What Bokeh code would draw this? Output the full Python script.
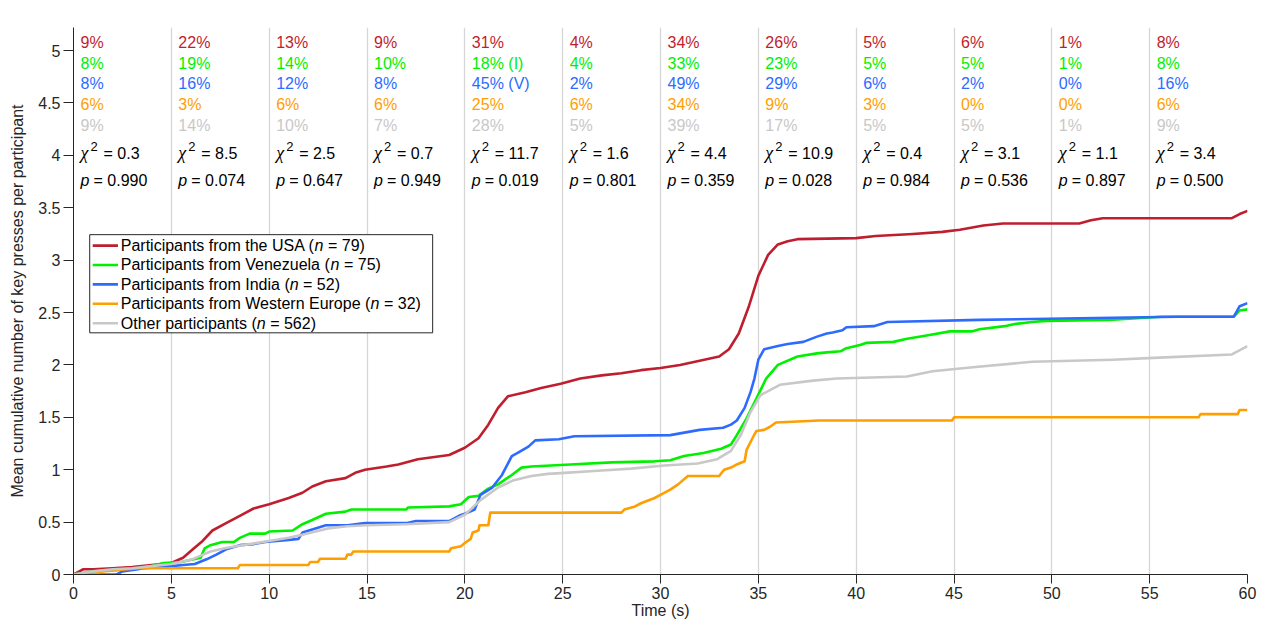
from bokeh.plotting import figure
from bokeh.models import Range1d, FixedTicker, CustomJSTickFormatter, Label
from bokeh.core.properties import value
from bokeh.embed import file_html
from bokeh.resources import INLINE

# ---------------- data ----------------
t_usa = [0, 0.3, 0.5, 1, 2, 3, 4, 5, 5.6, 6.1, 6.6, 7.1, 7.8, 8.5, 9.2, 10, 11, 11.7, 12.2, 12.9,
         13.9, 14.4, 14.9, 16, 16.6, 17.6, 19.2, 20, 20.7, 21.2, 21.7, 22.2, 23.1, 23.9, 24.9,
         25.9, 27, 28, 29, 30, 31, 32, 33, 33.5, 34, 34.5, 35, 35.5, 36, 36.5, 37, 40, 41, 42.9,
         44.4, 45.3, 46.5, 47.5, 51.4, 52, 52.6, 59.2, 59.6, 60]
v_usa = [0, 0.03, 0.05, 0.05, 0.06, 0.07, 0.09, 0.11, 0.16, 0.24, 0.32, 0.42, 0.49, 0.56, 0.63, 0.67,
         0.73, 0.78, 0.84, 0.89, 0.92, 0.97, 1.0, 1.03, 1.05, 1.10, 1.14, 1.21, 1.30, 1.43, 1.59,
         1.70, 1.74, 1.78, 1.82, 1.87, 1.9, 1.92, 1.95, 1.97, 2.0, 2.04, 2.08, 2.15, 2.3, 2.55, 2.85,
         3.05, 3.15, 3.18, 3.2, 3.21, 3.23, 3.25, 3.27, 3.29, 3.33, 3.35, 3.35, 3.38, 3.40, 3.40,
         3.44, 3.47]

t_ven = [0, 1, 2, 3, 4, 4.6, 5.5, 6.5, 6.7, 7.0, 7.6, 8.2, 8.5, 9.0, 9.8, 10, 11.2, 11.7, 12.2, 12.9,
         13.9, 14.2, 17.0, 17.1, 19.2, 19.8, 20.2, 20.7, 21.2, 21.7, 22.4, 22.9, 23.4, 25.4, 27.5,
         29.7, 30.5, 31.2, 32.2, 33.1, 33.6, 33.9, 34.4, 34.9, 35.4, 36, 37, 38, 38.5, 39.2, 39.5,
         40.2, 40.5, 41.9, 42.6, 43.6, 44.8, 45.9, 46.3, 47.6, 48.1, 49.0, 49.7, 52.9, 55.6, 59.3,
         59.6, 60]
v_ven = [0, 0.03, 0.04, 0.05, 0.08, 0.11, 0.12, 0.16, 0.25, 0.28, 0.31, 0.31, 0.35, 0.39, 0.39, 0.41,
         0.42, 0.48, 0.52, 0.58, 0.60, 0.62, 0.62, 0.64, 0.65, 0.67, 0.74, 0.75, 0.82, 0.86, 0.95,
         1.02, 1.03, 1.05, 1.07, 1.08, 1.09, 1.13, 1.16, 1.20, 1.24, 1.33, 1.49, 1.68, 1.87, 2.0,
         2.08, 2.11, 2.12, 2.13, 2.16, 2.19, 2.21, 2.22, 2.25, 2.28, 2.32, 2.32, 2.34, 2.37, 2.39,
         2.41, 2.42, 2.43, 2.46, 2.46, 2.52, 2.53]

t_ind = [0, 2.2, 2.5, 3.3, 3.6, 5, 5.6, 6.2, 6.8, 7.3, 7.8, 8.5, 9.2, 9.8, 11.0, 11.5, 11.7, 12.2,
         12.9, 14, 14.9, 17, 17.5, 19.2, 19.7, 20.0, 20.5, 20.8, 21.4, 21.9, 22.4, 22.7, 23.25, 23.6,
         24.8, 25.6, 30.5, 32.0, 33.2, 33.6, 33.9, 34.3, 34.6, 34.8, 35.0, 35.3, 36, 36.5, 37.3, 38,
         38.5, 38.8, 39.3, 39.5, 40.9, 41.6, 46.3, 56.4, 59.3, 59.6, 60]
v_ind = [0, 0, 0.03, 0.05, 0.06, 0.08, 0.09, 0.10, 0.145, 0.19, 0.24, 0.28, 0.29, 0.31, 0.33, 0.34,
         0.40, 0.43, 0.47, 0.47, 0.49, 0.49, 0.51, 0.51, 0.56, 0.58, 0.62, 0.76, 0.83, 0.95, 1.13,
         1.16, 1.22, 1.28, 1.29, 1.32, 1.33, 1.38, 1.40, 1.43, 1.47, 1.59, 1.74, 1.87, 2.05, 2.15,
         2.18, 2.2, 2.22, 2.27, 2.30, 2.31, 2.33, 2.36, 2.37, 2.41, 2.43, 2.46, 2.46, 2.56, 2.59]

t_we = [0, 1.0, 1.5, 3.3, 8.4, 8.5, 12.0, 12.1, 12.5, 12.6, 13.9, 14.0, 14.2, 14.3, 19.2, 19.3, 19.8,
        20.0, 20.3, 20.4, 20.7, 20.75, 21.2, 21.3, 28.0, 28.15, 28.7, 29.0, 29.7, 30.0, 30.5, 30.9,
        31.4, 33.0, 33.25, 33.6, 33.9, 34.3, 34.4, 34.7, 34.9, 35.3, 35.6, 35.9, 38.1, 44.9, 45.0,
        57.5, 57.6, 59.5, 59.6, 60]
v_we = [0, 0, 0.03, 0.06, 0.06, 0.09, 0.09, 0.12, 0.12, 0.15, 0.15, 0.19, 0.19, 0.22, 0.22, 0.25,
        0.27, 0.30, 0.34, 0.40, 0.42, 0.47, 0.47, 0.59, 0.59, 0.62, 0.65, 0.68, 0.73, 0.76, 0.81,
        0.86, 0.94, 0.94, 1.0, 1.02, 1.05, 1.08, 1.19, 1.30, 1.37, 1.38, 1.41, 1.45, 1.47, 1.47,
        1.50, 1.50, 1.53, 1.53, 1.57, 1.57]

t_oth = [0, 1, 2, 3, 4, 5, 6, 6.5, 7, 7.5, 8, 9, 10, 11, 11.7, 13, 14, 15, 17, 19.2, 20.0, 20.8, 21.7,
         22.5, 23.4, 24.25, 25.1, 26.8, 28.5, 30.2, 31.9, 32.9, 33.6, 34.1, 34.6, 35.1, 36.1, 37.8,
         39, 42.6, 43.9, 46.1, 49.0, 53.1, 55.5, 59.2, 60]
v_oth = [0, 0.03, 0.05, 0.06, 0.08, 0.10, 0.14, 0.18, 0.22, 0.24, 0.26, 0.29, 0.32, 0.35, 0.38, 0.44,
         0.46, 0.47, 0.48, 0.50, 0.57, 0.71, 0.83, 0.90, 0.94, 0.96, 0.97, 0.99, 1.01, 1.04, 1.06,
         1.10, 1.18, 1.33, 1.55, 1.71, 1.81, 1.85, 1.87, 1.89, 1.94, 1.98, 2.03, 2.05, 2.07, 2.10,
         2.18]

group_names = ["Participants from the USA", "Participants from Venezuela", "Participants from India",
               "Participants from Western Europe", "Other participants"]
group_n = [79, 75, 52, 32, 562]

pct_usa = ["9%", "22%", "13%", "9%", "31%", "4%", "34%", "26%", "5%", "6%", "1%", "8%"]
pct_ven = ["8%", "19%", "14%", "10%", "18% (I)", "4%", "33%", "23%", "5%", "5%", "1%", "8%"]
pct_ind = ["8%", "16%", "12%", "8%", "45% (V)", "2%", "49%", "29%", "6%", "2%", "0%", "16%"]
pct_we = ["6%", "3%", "6%", "6%", "25%", "6%", "34%", "9%", "3%", "0%", "0%", "6%"]
pct_oth = ["9%", "14%", "10%", "7%", "28%", "5%", "39%", "17%", "5%", "5%", "1%", "9%"]
chi2 = ["0.3", "8.5", "2.5", "0.7", "11.7", "1.6", "4.4", "10.9", "0.4", "3.1", "1.1", "3.4"]
pval = ["0.990", "0.074", "0.647", "0.949", "0.019", "0.801", "0.359", "0.028", "0.984", "0.536",
        "0.897", "0.500"]
interval_starts = [0, 5, 10, 15, 20, 25, 30, 35, 40, 45, 50, 55]

# ---------------- style / layout ----------------
colors = ["#BF1E2E", "#00F000", "#2D6BFF", "#FF9E00", "#C8C8C8"]
FONT = "Liberation Sans"
INK = "#262626"

XMAX, YMAX = 60, 5.22
W, H = 1257, 623
BL, BR, BT, BB = 73, 10, 27, 49
FW, FH = W - BL - BR, H - BT - BB
SX = FW / XMAX          # rendered px per second
SY = FH / YMAX          # rendered px per unit

# reference-picture geometry (used to place texts)
REF_X0, REF_Y0, REF_SX, REF_SY = 73, 577, 1180 / 60, 550 / 5.22


def dx(px):
    return (px - REF_X0) / REF_SX


def dy(py):
    return (REF_Y0 - py) / REF_SY


AW = {' ': 278, '(': 333, ')': 333, '=': 584, '%': 889, '.': 278,
      'P': 667, 'O': 778, 'U': 722, 'S': 667, 'A': 667, 'V': 667, 'I': 278, 'W': 944, 'E': 667,
      'a': 556, 'b': 556, 'c': 500, 'd': 556, 'e': 556, 'f': 278, 'g': 556, 'h': 556, 'i': 222,
      'j': 222, 'k': 500, 'l': 222, 'm': 833, 'n': 556, 'o': 556, 'p': 556, 'q': 556, 'r': 333,
      's': 500, 't': 278, 'u': 556, 'v': 500, 'w': 722, 'x': 500, 'y': 500, 'z': 500}


def tw(s, size=16):
    return sum(AW.get(c, 556) for c in s) * size / 1000.0


p = figure(width=W, height=H, output_backend="svg", toolbar_location=None,
           x_range=Range1d(0, XMAX), y_range=Range1d(0, YMAX),
           min_border_left=BL, min_border_right=BR, min_border_top=BT, min_border_bottom=BB)
p.outline_line_color = None
p.background_fill_color = "white"

for ax in (p.xaxis[0], p.yaxis[0]):
    ax.axis_line_color = INK
    ax.major_tick_line_color = INK
    ax.major_tick_in = 0
    ax.minor_tick_in = 0
    ax.minor_tick_out = 0
    ax.major_label_text_font = FONT
    ax.major_label_text_font_size = "16px"
    ax.major_label_text_color = INK
    ax.axis_label_text_font = FONT
    ax.axis_label_text_font_size = "16px"
    ax.axis_label_text_font_style = "normal"
    ax.axis_label_text_color = INK
    ax.formatter = CustomJSTickFormatter(code="return tick.toString();")

p.xaxis.ticker = FixedTicker(ticks=list(range(0, 61, 5)))
p.yaxis.ticker = FixedTicker(ticks=[i * 0.5 for i in range(11)])
p.xaxis.major_tick_out = 9
p.yaxis.major_tick_out = 10
p.xaxis.major_label_standoff = 3
p.yaxis.major_label_standoff = 3
p.xaxis.axis_label = "Time (s)"
p.yaxis.axis_label = "Mean cumulative number of key presses per participant"
p.xaxis.axis_label_standoff = 0
p.yaxis.axis_label_standoff = 9

p.xgrid.ticker = FixedTicker(ticks=list(range(0, 61, 5)))
p.xgrid.grid_line_color = "#D6D6D6"
p.xgrid.grid_line_width = 1.3
p.ygrid.visible = False

series = [(t_usa, v_usa), (t_ven, v_ven), (t_ind, v_ind), (t_we, v_we), (t_oth, v_oth)]
for (t, v), c in zip(series, colors):
    p.line(t, v, line_color=c, line_width=2.6, line_join="round")

# per-interval annotation rows
row_py = [41.7, 62.7, 83.5, 104.7, 125.7]
pct_rows = [pct_usa, pct_ven, pct_ind, pct_we, pct_oth]
xs = [s + 7 / SX for s in interval_starts]
for rows, c, py in zip(pct_rows, colors, row_py):
    p.text(x=xs, y=[dy(py)] * len(interval_starts), text=rows,
           text_color=c, text_font=value(FONT), text_font_size="16px",
           text_baseline="middle", text_align="left")

chi_py, p_py = 153.5, 181.0
p.text(x=xs, y=[dy(chi_py)] * 12, text=["\u03c7"] * 12, text_color="black",
       text_font=value("Liberation Serif"), text_font_style="italic", text_font_size="18px",
       text_baseline="middle", text_align="left")
p.text(x=[s + 17 / SX for s in interval_starts], y=[dy(chi_py - 7)] * 12, text=["2"] * 12,
       text_color="black", text_font=value(FONT), text_font_size="13px",
       text_baseline="middle", text_align="left")
p.text(x=[s + 30 / SX for s in interval_starts], y=[dy(chi_py)] * 12,
       text=["= " + c for c in chi2], text_color="black", text_font=value(FONT),
       text_font_size="16px", text_baseline="middle", text_align="left")
p.text(x=xs, y=[dy(p_py)] * 12, text=["p"] * 12, text_color="black",
       text_font=value(FONT), text_font_style="italic", text_font_size="16px",
       text_baseline="middle", text_align="left")
p.text(x=[s + 20 / SX for s in interval_starts], y=[dy(p_py)] * 12,
       text=["= " + v for v in pval], text_color="black", text_font=value(FONT),
       text_font_size="16px", text_baseline="middle", text_align="left")

# legend (drawn by hand so that "n" can be italic)
p.quad(left=[dx(89.3)], right=[dx(434)], top=[dy(235.3)], bottom=[dy(334)],
       fill_color="white", line_color=INK, line_width=1)
leg_py = [246.3, 265.8, 285.3, 304.8, 324.3]
x_txt = dx(120.5)
for name, n, c, py in zip(group_names, group_n, colors, leg_py):
    p.line([dx(92.3), dx(117.7)], [dy(py), dy(py)], line_color=c, line_width=2.6)
    pre = name + " ("
    w1 = tw(pre)
    w2 = w1 + tw("n") + tw(" ")
    p.text(x=[x_txt], y=[dy(py)], text=[pre], text_color="black",
           text_font=value(FONT), text_font_size="16px", text_baseline="middle")
    p.text(x=[x_txt + w1 / SX], y=[dy(py)], text=["n"], text_color="black",
           text_font=value(FONT), text_font_style="italic", text_font_size="16px",
           text_baseline="middle")
    p.text(x=[x_txt + w2 / SX], y=[dy(py)], text=["= %d)" % n], text_color="black",
           text_font=value(FONT), text_font_size="16px", text_baseline="middle")

p.add_layout(Label(x=XMAX / 2, y=dy(16), text="United States, Highway", text_align="center",
                   text_baseline="middle", text_font=FONT, text_font_size="16px",
                   text_font_style="bold", text_color="black"))

open("out.html", "w").write(file_html(p, INLINE))
